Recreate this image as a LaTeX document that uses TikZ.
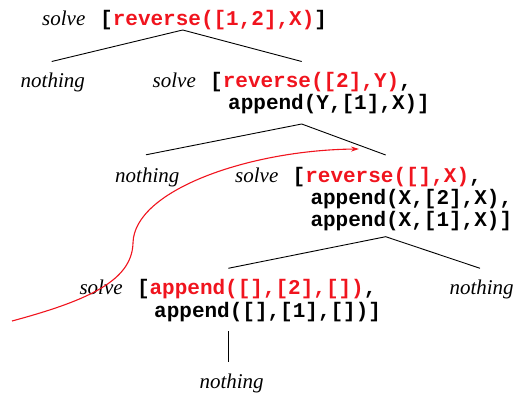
\documentclass[tikz,border=0pt]{standalone}
\usepackage{fontspec}
\setmainfont{Liberation Serif}
\setmonofont{Liberation Mono}
\usetikzlibrary{arrows.meta}
\definecolor{goalred}{RGB}{240,20,30}
\tikzset{
  solvetxt/.style={anchor=base west,inner sep=0pt,font=\fontsize{21}{25}\selectfont\itshape},
  codetxt/.style={anchor=base west,inner sep=0pt,font=\fontsize{21}{24}\selectfont\ttfamily\bfseries},
  treeedge/.style={line width=0.9pt,black},
  tracearrow/.style={line width=1.1pt,goalred,-{Stealth[length=8pt,width=5pt]}}
}
\newcommand{\rd}[1]{\textcolor{goalred}{#1}}
\begin{document}
\begin{tikzpicture}[x=1pt,y=-1pt]
\useasboundingbox (0,0) rectangle (514,395);
% level 1
\node[solvetxt] (s1) at (42,26) {solve};
\node[codetxt] (g1) at (100,26) {[\rd{reverse([1,2],X)}]};
\coordinate (a1) at (182.7,30);
\coordinate (l1) at (51.7,61.5);
\coordinate (r1) at (301.7,61.5);
\draw[treeedge] (l1) -- (a1) -- (r1);
% level 2
\node[solvetxt] (n2) at (20.5,88) {nothing};
\node[solvetxt] (s2) at (152.5,88) {solve};
\node[codetxt] (g2a) at (210,88) {[\rd{reverse([2],Y)},};
\node[codetxt] (g2b) at (228,110) {append(Y,[1],X)]};
\coordinate (a2) at (301.7,124);
\coordinate (l2) at (146,154.8);
\coordinate (r2) at (385.7,155);
\draw[treeedge] (l2) -- (a2) -- (r2);
% level 3
\node[solvetxt] (n3) at (115,183) {nothing};
\node[solvetxt] (s3) at (235,183) {solve};
\node[codetxt] (g3a) at (292.5,183) {[\rd{reverse([],X)},};
\node[codetxt] (g3b) at (310.3,205) {append(X,[2],X),};
\node[codetxt] (g3c) at (310.3,227) {append(X,[1],X)]};
\coordinate (a3) at (385.7,236.7);
\coordinate (l3) at (228.3,268.3);
\coordinate (r3) at (480,268.3);
\draw[treeedge] (l3) -- (a3) -- (r3);
% level 4
\node[solvetxt] (s4) at (79.3,295) {solve};
\node[codetxt] (g4a) at (136.8,295) {[\rd{append([],[2],[])},};
\node[codetxt] (g4b) at (154,317) {append([],[1],[])]};
\node[solvetxt] (n4) at (449.3,295) {nothing};
\coordinate (v1) at (228.3,331);
\coordinate (v2) at (228.3,361.7);
\draw[treeedge] (v1) -- (v2);
% level 5
\node[solvetxt] (n5) at (199.3,388) {nothing};
% trace arrow
\coordinate (t0) at (12,321);
\coordinate (t1) at (133,243);
\coordinate (t2) at (359,149);
\draw[tracearrow] (t0) .. controls (90,300) and (132,280) .. (t1)
  .. controls (134,190) and (250,150) .. (t2);
\end{tikzpicture}
\end{document}
